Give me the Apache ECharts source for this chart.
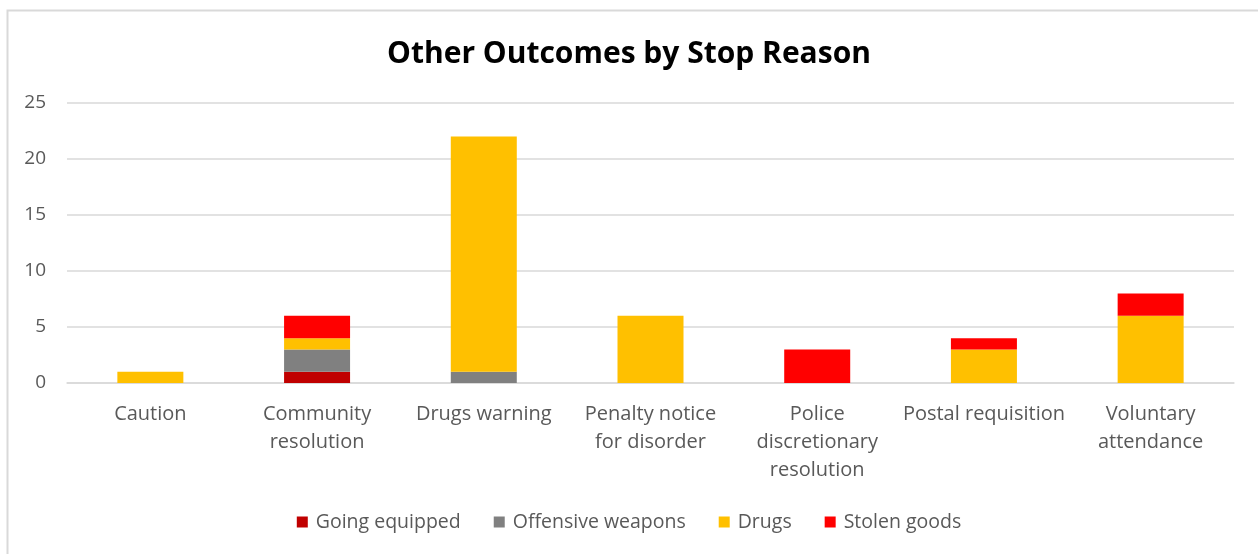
<!DOCTYPE html>
<html>
<head>
<meta charset="utf-8">
<script src="https://cdn.jsdelivr.net/npm/echarts@6/dist/echarts.min.js"></script>
<style>
  html, body { margin: 0; padding: 0; background: #fff; }
  #chart { width: 1258px; height: 554px; }
</style>
</head>
<body>
<div id="chart"></div>
<script>
// Stop outcomes (categories) and counts per stop reason
const categories = [
  'Caution',
  'Community\nresolution',
  'Drugs warning',
  'Penalty notice\nfor disorder',
  'Police\ndiscretionary\nresolution',
  'Postal requisition',
  'Voluntary\nattendance'
];
const goingEquipped    = [0, 1, 0, 0, 0, 0, 0];
const offensiveWeapons = [0, 2, 1, 0, 0, 0, 0];
const drugs            = [1, 1, 21, 6, 0, 3, 6];
const stolenGoods      = [0, 2, 0, 0, 3, 1, 2];
const yTicks = [0, 5, 10, 15, 20, 25];

const FONT = '"Open Sans", sans-serif';
const TEXT_GREY = '#595959';

const chart = echarts.init(document.getElementById('chart'), null, { renderer: 'canvas' });

function stack(name, data, color) {
  return {
    name: name,
    type: 'bar',
    stack: 'total',
    data: data,
    barWidth: 66,
    itemStyle: { color: color },
    emphasis: { disabled: true }
  };
}

chart.setOption({
  animation: false,
  backgroundColor: '#fff',
  graphic: [{
    type: 'rect',
    left: 5, top: 8,
    shape: { width: 1270, height: 570 },
    style: { fill: 'none', stroke: '#d9d9d9', lineWidth: 2 },
    z: -1
  }],
  title: {
    text: 'Other Outcomes by Stop Reason',
    left: 'center',
    top: 34,
    textStyle: { fontFamily: FONT, fontSize: 30, fontWeight: 'bold', color: '#000' }
  },
  legend: {
    bottom: 17,
    left: 'center',
    itemWidth: 11,
    itemHeight: 11,
    itemGap: 33,
    icon: 'rect',
    textStyle: { fontFamily: FONT, fontSize: 19.5, color: TEXT_GREY, padding: [0, 0, 0, 3] },
    data: ['Going equipped', 'Offensive weapons', 'Drugs', 'Stolen goods']
  },
  grid: { left: 67, right: 24, top: 103, bottom: 171, containLabel: false },
  xAxis: {
    type: 'category',
    data: categories,
    axisTick: { show: false },
    axisLine: { lineStyle: { color: '#d9d9d9', width: 1.5 } },
    axisLabel: {
      interval: 0,
      margin: 17,
      lineHeight: 28,
      fontFamily: FONT,
      fontSize: 20,
      color: TEXT_GREY
    }
  },
  yAxis: {
    type: 'value',
    min: yTicks[0],
    max: yTicks[yTicks.length - 1],
    interval: 5,
    axisLine: { show: false },
    axisTick: { show: false },
    splitLine: { lineStyle: { color: '#d9d9d9', width: 1.5 } },
    axisLabel: { margin: 21, fontFamily: FONT, fontSize: 19, color: TEXT_GREY }
  },
  series: [
    stack('Going equipped', goingEquipped, '#C00000'),
    stack('Offensive weapons', offensiveWeapons, '#808080'),
    stack('Drugs', drugs, '#FFC000'),
    stack('Stolen goods', stolenGoods, '#FF0000')
  ]
});
</script>
</body>
</html>
